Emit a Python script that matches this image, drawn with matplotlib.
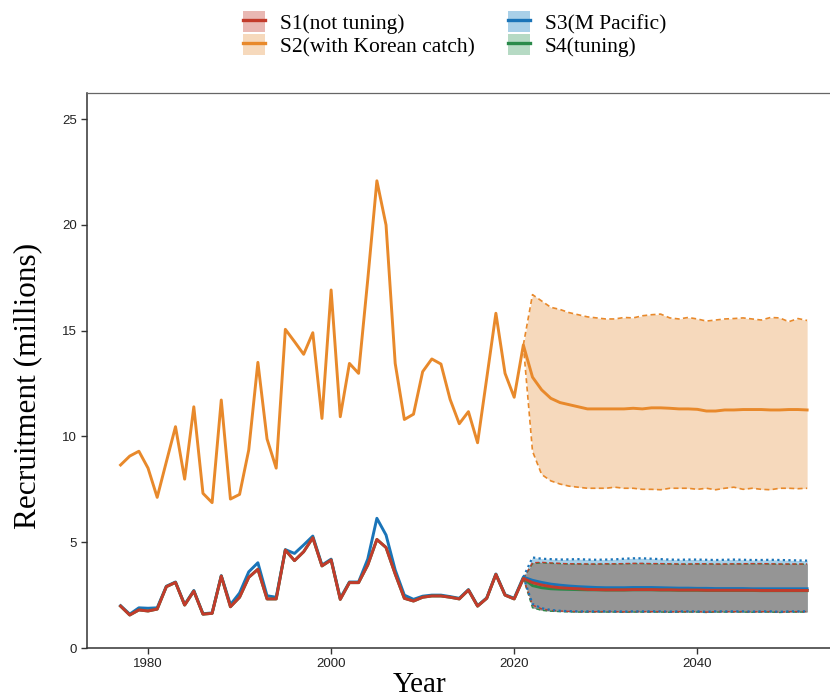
import numpy as np
import matplotlib
matplotlib.use("Agg")
import matplotlib.pyplot as plt
from matplotlib.patches import Patch
from matplotlib.lines import Line2D

# ---------------- data ----------------
hist_years = list(range(1977, 2022))
proj_years = list(range(2022, 2053))

s1_hist = [1.98, 1.56, 1.80, 1.75, 1.84, 2.90, 3.10, 2.03, 2.69, 1.60,
           1.64, 3.40, 1.95, 2.40, 3.34, 3.72, 2.32, 2.32, 4.63, 4.13,
           4.55, 5.21, 3.88, 4.16, 2.30, 3.09, 3.09, 3.92, 5.13, 4.75,
           3.50, 2.35, 2.22, 2.40, 2.46, 2.46, 2.40, 2.32, 2.74, 1.98,
           2.35, 3.48, 2.50, 2.32, 3.29]
s2_hist = [8.65, 9.07, 9.30, 8.50, 7.12, 8.80, 10.46, 7.98, 11.40, 7.31,
           6.87, 11.72, 7.04, 7.26, 9.36, 13.50, 9.88, 8.50, 15.06, 14.48,
           13.88, 14.90, 10.85, 16.92, 10.93, 13.45, 12.98, 17.40, 22.08, 19.99,
           13.45, 10.80, 11.05, 13.06, 13.66, 13.42, 11.75, 10.60, 11.17, 9.70,
           12.75, 15.82, 12.98, 11.85, 14.32]
s3_hist = [2.00, 1.60, 1.90, 1.88, 1.90, 2.92, 3.12, 2.05, 2.72, 1.62,
           1.66, 3.42, 2.05, 2.60, 3.60, 4.03, 2.47, 2.40, 4.65, 4.47,
           4.87, 5.29, 3.92, 4.20, 2.35, 3.12, 3.12, 4.20, 6.13, 5.34,
           3.69, 2.50, 2.30, 2.45, 2.50, 2.50, 2.43, 2.35, 2.76, 2.00,
           2.37, 3.50, 2.52, 2.35, 3.35]
s4_hist = s1_hist

s2_med = [12.80, 12.20, 11.80, 11.60, 11.50, 11.40, 11.30, 11.30, 11.30, 11.30,
          11.30, 11.33, 11.30, 11.35, 11.35, 11.33, 11.30, 11.30, 11.28, 11.20,
          11.20, 11.25, 11.25, 11.27, 11.27, 11.27, 11.25, 11.25, 11.27, 11.27, 11.25]
s2_up = [16.70, 16.40, 16.10, 16.00, 15.85, 15.75, 15.65, 15.60, 15.55, 15.55,
         15.62, 15.60, 15.70, 15.75, 15.78, 15.60, 15.55, 15.62, 15.55, 15.45,
         15.50, 15.55, 15.57, 15.60, 15.55, 15.50, 15.62, 15.60, 15.42, 15.57, 15.48]
s2_lo = [9.30, 8.20, 7.90, 7.75, 7.65, 7.60, 7.55, 7.55, 7.55, 7.60,
         7.55, 7.55, 7.50, 7.50, 7.48, 7.55, 7.55, 7.55, 7.50, 7.55,
         7.48, 7.55, 7.60, 7.50, 7.55, 7.50, 7.48, 7.55, 7.55, 7.53, 7.55]

s1_med = [3.09, 2.98, 2.90, 2.85, 2.82, 2.80, 2.77, 2.76, 2.75, 2.75,
          2.75, 2.76, 2.76, 2.76, 2.75, 2.75, 2.74, 2.74, 2.74, 2.73,
          2.73, 2.73, 2.73, 2.73, 2.73, 2.72, 2.72, 2.72, 2.72, 2.72, 2.72]
s1_up = [4.03, 4.05, 4.02, 4.00, 3.98, 3.98, 3.97, 3.97, 3.98, 3.98,
         3.99, 4.00, 4.00, 3.99, 3.99, 3.98, 3.97, 3.97, 3.98, 3.98,
         3.97, 3.97, 3.98, 3.98, 3.99, 3.99, 3.98, 3.97, 3.97, 3.97, 3.97]
s1_lo = [2.03, 1.85, 1.78, 1.75, 1.73, 1.72, 1.72, 1.72, 1.72, 1.72,
         1.71, 1.72, 1.72, 1.72, 1.72, 1.71, 1.72, 1.72, 1.72, 1.70,
         1.72, 1.72, 1.72, 1.72, 1.71, 1.72, 1.72, 1.70, 1.72, 1.72, 1.72]

s3_med = [3.20, 3.10, 3.02, 2.97, 2.93, 2.90, 2.88, 2.86, 2.85, 2.85,
          2.85, 2.86, 2.86, 2.86, 2.85, 2.84, 2.83, 2.83, 2.82, 2.82,
          2.81, 2.81, 2.81, 2.81, 2.80, 2.80, 2.80, 2.80, 2.80, 2.80, 2.80]
s3_up = [4.28, 4.22, 4.20, 4.18, 4.19, 4.20, 4.18, 4.17, 4.18, 4.19,
         4.22, 4.24, 4.24, 4.22, 4.20, 4.18, 4.17, 4.18, 4.18, 4.17,
         4.16, 4.17, 4.18, 4.17, 4.16, 4.16, 4.17, 4.16, 4.15, 4.14, 4.13]
s3_lo = [2.08, 1.88, 1.80, 1.76, 1.74, 1.73, 1.73, 1.73, 1.73, 1.73,
         1.72, 1.73, 1.73, 1.73, 1.73, 1.72, 1.73, 1.73, 1.73, 1.71,
         1.73, 1.73, 1.73, 1.73, 1.72, 1.73, 1.73, 1.71, 1.73, 1.73, 1.73]

s4_med = [2.95, 2.85, 2.80, 2.78, 2.77, 2.76, 2.75, 2.75, 2.74, 2.74,
          2.74, 2.75, 2.75, 2.75, 2.74, 2.74, 2.73, 2.73, 2.73, 2.72,
          2.72, 2.72, 2.72, 2.72, 2.72, 2.71, 2.71, 2.71, 2.71, 2.71, 2.71]
s4_up = [3.98, 4.03, 4.00, 3.99, 3.97, 3.97, 3.96, 3.96, 3.97, 3.97,
         3.98, 3.99, 3.99, 3.98, 3.98, 3.97, 3.96, 3.96, 3.97, 3.97,
         3.96, 3.96, 3.97, 3.97, 3.98, 3.98, 3.97, 3.96, 3.96, 3.96, 3.96]
s4_lo = [1.90, 1.78, 1.74, 1.72, 1.71, 1.70, 1.70, 1.70, 1.70, 1.70,
         1.69, 1.70, 1.70, 1.70, 1.70, 1.69, 1.70, 1.70, 1.70, 1.68,
         1.70, 1.70, 1.70, 1.70, 1.69, 1.70, 1.70, 1.68, 1.70, 1.70, 1.70]

labels = ["S1(not tuning)", "S2(with Korean catch)", "S3(M Pacific)", "S4(tuning)"]
line_colors = ["#C23B2B", "#E8892B", "#1A74B8", "#2A8A4A"]
fill_colors = ["#E9B8B3", "#F6D9BC", "#A9D0E8", "#B6DAC4"]
overlap_grey = "#959595"

# ---------------- figure ----------------
fig = plt.figure(figsize=(8.30, 6.98), dpi=100)
ax = fig.add_axes([0.1048, 0.0716, 0.8952, 0.7952])

py = np.array([hist_years[-1]] + proj_years)

def ext(last, arr):
    return np.array([last] + arr)

series = [
    (s1_hist, s1_med, s1_up, s1_lo),
    (s2_hist, s2_med, s2_up, s2_lo),
    (s3_hist, s3_med, s3_up, s3_lo),
    (s4_hist, s4_med, s4_up, s4_lo),
]

# fills
ax.fill_between(py, ext(s2_hist[-1], s2_lo), ext(s2_hist[-1], s2_up),
                color=fill_colors[1], lw=0, zorder=1)
ax.fill_between(py, ext(s3_hist[-1], s3_lo), ext(s3_hist[-1], s3_up),
                color=fill_colors[2], lw=0, zorder=1)
ax.fill_between(py, ext(s1_hist[-1], s1_lo), ext(s1_hist[-1], s1_up),
                color=overlap_grey, lw=0, zorder=1.1)
ax.fill_between(py, ext(s4_hist[-1], s4_lo), ext(s4_hist[-1], s4_up),
                color=overlap_grey, lw=0, zorder=1.1)

# band edges
ax.plot(py, ext(s2_hist[-1], s2_up), ls=(0, (3, 2)), color=line_colors[1], lw=1.2, zorder=2)
ax.plot(py, ext(s2_hist[-1], s2_lo), ls=(0, (3, 2)), color=line_colors[1], lw=1.2, zorder=2)
for i in (3, 0):
    h, m, u, l = series[i]
    ax.plot(py, ext(h[-1], u), ls=(0, (3, 2)), color=line_colors[i], lw=1.0, zorder=2)
    ax.plot(py, ext(h[-1], l), ls=(0, (3, 2)), color=line_colors[i], lw=1.0, zorder=2)
ax.plot(py, ext(s3_hist[-1], s3_up), ls=(0, (1, 1.5)), color=line_colors[2], lw=1.6, zorder=2.1)
ax.plot(py, ext(s3_hist[-1], s3_lo), ls=(0, (1, 1.5)), color=line_colors[2], lw=1.6, zorder=2.1)

# median / historical lines
for i, z in ((1, 3), (2, 3.1), (3, 3.2), (0, 3.3)):
    h, m, u, l = series[i]
    ax.plot(hist_years + proj_years, h + m, color=line_colors[i], lw=2.1,
            zorder=z, solid_joinstyle="round")

ax.set_xlim(1973.33, 2054.5)
ax.set_ylim(0, 26.23)
ax.set_xticks([1980, 2000, 2020, 2040])
ax.set_yticks([0, 5, 10, 15, 20, 25])
ax.tick_params(labelsize=9.5, length=4, width=1.0, colors="#333333",
               labelcolor="#222222")
for lab in ax.get_xticklabels() + ax.get_yticklabels():
    lab.set_family(["Liberation Sans", "DejaVu Sans"])

ax.spines["right"].set_visible(False)
ax.spines["top"].set_color("#666666")
ax.spines["top"].set_linewidth(0.9)
ax.spines["left"].set_linewidth(1.1)
ax.spines["bottom"].set_linewidth(1.1)
ax.spines["left"].set_color("#333333")
ax.spines["bottom"].set_color("#333333")

serif = ["Liberation Serif", "DejaVu Serif"]
ax.set_xlabel("Year", fontsize=21, family=serif)
ax.set_ylabel("Recruitment (millions)", fontsize=22.5, family=serif)
ax.xaxis.set_label_coords((420 - 87) / 743, -0.044)
ax.yaxis.set_label_coords((42 - 87) / 743, 0.472)

handles = []
for i in range(4):
    handles.append((Patch(facecolor=fill_colors[i], edgecolor="none"),
                    Line2D([], [], color=line_colors[i], lw=2.4)))
leg = fig.legend(handles, labels,
                 ncol=2, loc="upper center", bbox_to_anchor=(0.548, 1.0115),
                 frameon=False, prop={"family": serif, "size": 15.5},
                 handlelength=1.0, handleheight=1.1, handletextpad=0.7,
                 labelspacing=0.02, columnspacing=1.55, borderaxespad=0.5)

fig.savefig("out.png", dpi=100)
